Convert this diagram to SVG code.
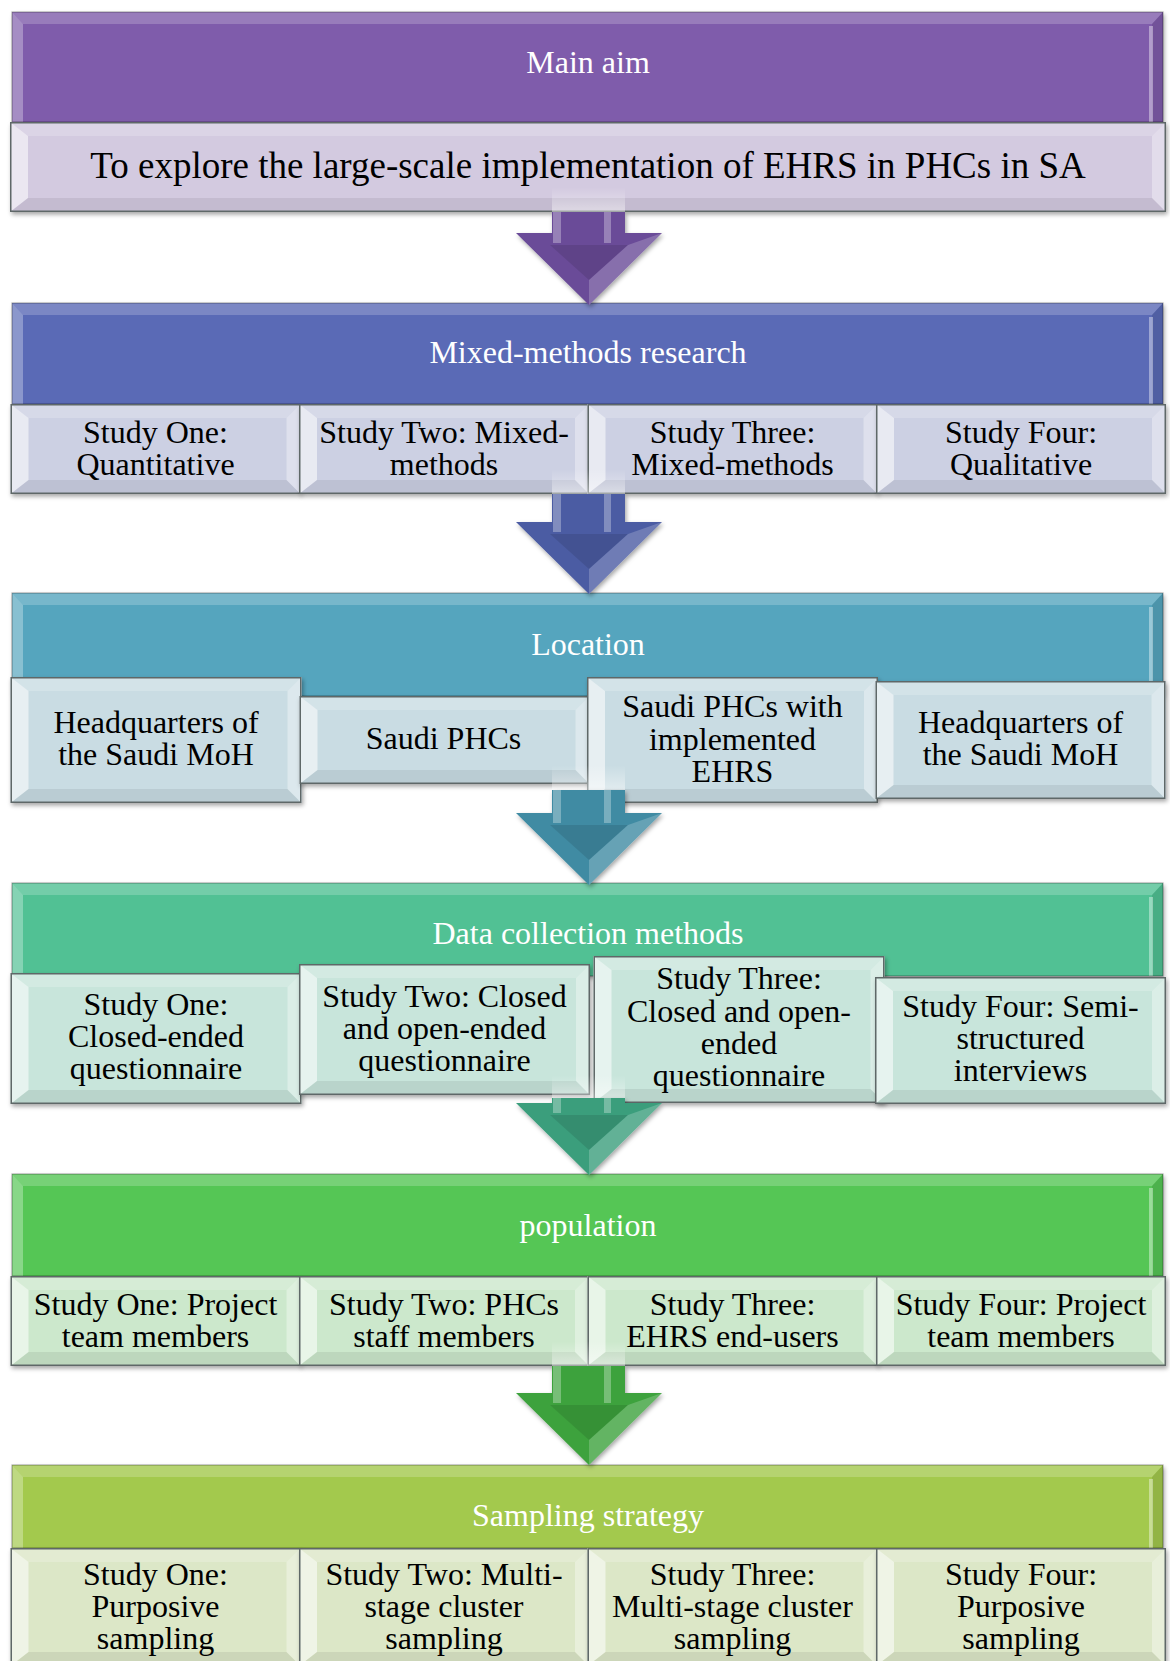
<svg xmlns="http://www.w3.org/2000/svg" xmlns:xlink="http://www.w3.org/1999/xlink" width="1170" height="1661" viewBox="0 0 1170 1661">
<style>
.ht{font-family:"Liberation Serif","Times New Roman",serif;font-size:32px;fill:#fff;text-anchor:middle}
.ct{font-family:"Liberation Serif","Times New Roman",serif;font-size:32px;fill:#000;text-anchor:middle}
.at{font-family:"Liberation Serif","Times New Roman",serif;font-size:37px;fill:#000;text-anchor:middle}
.ft{fill:#fff;opacity:.2}
.fl{fill:#fff;opacity:.55}
.fr{fill:#fff;opacity:.35}
.fb{fill:#000;opacity:.07}
.ol{fill:none;stroke:#5e6868;stroke-width:1.5}
.hl{fill:#fff;opacity:.3}
.hr{fill:#000;opacity:.1}
.hs{fill:#fff;opacity:.4}
.ho{fill:none;stroke:#000;stroke-opacity:.3;stroke-width:1.2}
symbol{overflow:visible}
.h1{fill:#7f5bab}.h2{fill:#5a6ab6}.h3{fill:#54a5be}.h4{fill:#51c194}.h5{fill:#54c654}.h6{fill:#a3c94e}
.s1{fill:#d3cae0}.s2{fill:#ccd0e3}.s3{fill:#c9dce3}.s4{fill:#c8e5db}.s5{fill:#cce8cc}.s6{fill:#dce7c7}
.a1{fill:#6a4c98}.a2{fill:#4b5ca3}.a3{fill:#3f8ba3}.a4{fill:#3b9e7c}.a5{fill:#3ea23e}
.hi{fill:#fff;opacity:.3}
.dk{fill:#000;opacity:.1}
.lt{fill:#fff;opacity:.2}
</style>
<defs>
<filter id="sh" x="-3%" y="-10%" width="106%" height="125%">
<feDropShadow dx="1.5" dy="2.5" stdDeviation="2" flood-color="#000" flood-opacity="0.35"/>
</filter>
<linearGradient id="fade" x1="0" y1="0" x2="0" y2="1">
<stop offset="0" stop-color="#fff" stop-opacity="0"/>
<stop offset="1" stop-color="#fff" stop-opacity="0.45"/>
</linearGradient>
<symbol id="sAim" viewBox="0 0 1156 90">
<rect width="1156" height="90"/>
<polygon class="ft" points="0,0 1156,0 1142,14 18,14"/>
<polygon class="fl" points="0,0 18,14 18,76 0,90"/>
<polygon class="fr" points="1156,0 1156,90 1142,76 1142,14"/>
<polygon class="fb" points="0,90 18,76 1142,76 1156,90"/>
<rect class="ol" x="0.75" y="0.75" width="1154.5" height="88.5"/>
</symbol>
<symbol id="c90" viewBox="0 0 290 90">
<rect width="290" height="90"/>
<polygon class="ft" points="0,0 290,0 276,14 18,14"/>
<polygon class="fl" points="0,0 18,14 18,76 0,90"/>
<polygon class="fr" points="290,0 290,90 276,76 276,14"/>
<polygon class="fb" points="0,90 18,76 276,76 290,90"/>
<rect class="ol" x="0.75" y="0.75" width="288.5" height="88.5"/>
</symbol>
<symbol id="c88" viewBox="0 0 290 88">
<rect width="290" height="88"/>
<polygon class="ft" points="0,0 290,0 276,14 18,14"/>
<polygon class="fl" points="0,0 18,14 18,74 0,88"/>
<polygon class="fr" points="290,0 290,88 276,74 276,14"/>
<polygon class="fb" points="0,88 18,74 276,74 290,88"/>
<rect class="ol" x="0.75" y="0.75" width="288.5" height="86.5"/>
</symbol>
<symbol id="c118" viewBox="0 0 290 118">
<rect width="290" height="118"/>
<polygon class="ft" points="0,0 290,0 276,14 18,14"/>
<polygon class="fl" points="0,0 18,14 18,104 0,118"/>
<polygon class="fr" points="290,0 290,118 276,104 276,14"/>
<polygon class="fb" points="0,118 18,104 276,104 290,118"/>
<rect class="ol" x="0.75" y="0.75" width="288.5" height="116.5"/>
</symbol>
<symbol id="c126" viewBox="0 0 291 126">
<rect width="291" height="126"/>
<polygon class="ft" points="0,0 291,0 277,14 18,14"/>
<polygon class="fl" points="0,0 18,14 18,112 0,126"/>
<polygon class="fr" points="291,0 291,126 277,112 277,14"/>
<polygon class="fb" points="0,126 18,112 277,112 291,126"/>
<rect class="ol" x="0.75" y="0.75" width="289.5" height="124.5"/>
</symbol>
<symbol id="c127" viewBox="0 0 291 127">
<rect width="291" height="127"/>
<polygon class="ft" points="0,0 291,0 277,14 18,14"/>
<polygon class="fl" points="0,0 18,14 18,113 0,127"/>
<polygon class="fr" points="291,0 291,127 277,113 277,14"/>
<polygon class="fb" points="0,127 18,113 277,113 291,127"/>
<rect class="ol" x="0.75" y="0.75" width="289.5" height="125.5"/>
</symbol>
<symbol id="c131" viewBox="0 0 291 131">
<rect width="291" height="131"/>
<polygon class="ft" points="0,0 291,0 277,14 18,14"/>
<polygon class="fl" points="0,0 18,14 18,117 0,131"/>
<polygon class="fr" points="291,0 291,131 277,117 277,14"/>
<polygon class="fb" points="0,131 18,117 277,117 291,131"/>
<rect class="ol" x="0.75" y="0.75" width="289.5" height="129.5"/>
</symbol>
<symbol id="c147" viewBox="0 0 291 147">
<rect width="291" height="147"/>
<polygon class="ft" points="0,0 291,0 277,14 18,14"/>
<polygon class="fl" points="0,0 18,14 18,133 0,147"/>
<polygon class="fr" points="291,0 291,147 277,133 277,14"/>
<polygon class="fb" points="0,147 18,133 277,133 291,147"/>
<rect class="ol" x="0.75" y="0.75" width="289.5" height="145.5"/>
</symbol>
</defs>
<rect width="1170" height="1661" fill="#fff"/>

<!-- Row 1 -->
<g id="n-main-aim">
<rect class="h1" x="12" y="12" width="1151" height="110" filter="url(#sh)"/>
<polygon class="ft" points="12,12 1163,12 1152,24 23,24"/>
<polygon class="hl" points="12,12 23,24 23,122 12,122"/>
<polygon class="hr" points="1163,12 1163,122 1152,122 1152,24"/>
<rect class="hs" x="1149" y="26" width="4" height="96"/>
<rect class="ho" x="12" y="12" width="1151" height="110"/>
<text class="ht" x="588" y="73">Main aim</text>
</g>
<g id="n-aim-text">
<use href="#sAim" class="s1" x="10" y="122" width="1156" height="90" filter="url(#sh)"/>
<text class="at" x="588" y="178">To explore the large-scale implementation of EHRS in PHCs in SA</text>
</g>

<!-- Row 2 -->
<g id="n-mixed-methods">
<rect class="h2" x="12" y="303" width="1151" height="101" filter="url(#sh)"/>
<polygon class="ft" points="12,303 1163,303 1152,315 23,315"/>
<polygon class="hl" points="12,303 23,315 23,404 12,404"/>
<polygon class="hr" points="1163,303 1163,404 1152,404 1152,315"/>
<rect class="hs" x="1149" y="317" width="4" height="87"/>
<rect class="ho" x="12" y="303" width="1151" height="101"/>
<text class="ht" x="588" y="363">Mixed-methods research</text>
</g>
<g id="n-design-1">
<use href="#c90" class="s2" x="10.5" y="404" width="290" height="90" filter="url(#sh)"/>
<text class="ct" x="155.5"><tspan x="155.5" y="443">Study One:</tspan><tspan x="155.5" y="475">Quantitative</tspan></text>
</g>
<g id="n-design-2">
<use href="#c90" class="s2" x="299" y="404" width="290" height="90" filter="url(#sh)"/>
<text class="ct" x="444"><tspan x="444" y="443">Study Two: Mixed-</tspan><tspan x="444" y="475">methods</tspan></text>
</g>
<g id="n-design-3">
<use href="#c90" class="s2" x="587.5" y="404" width="290" height="90" filter="url(#sh)"/>
<text class="ct" x="732.5"><tspan x="732.5" y="443">Study Three:</tspan><tspan x="732.5" y="475">Mixed-methods</tspan></text>
</g>
<g id="n-design-4">
<use href="#c90" class="s2" x="876" y="404" width="290" height="90" filter="url(#sh)"/>
<text class="ct" x="1021"><tspan x="1021" y="443">Study Four:</tspan><tspan x="1021" y="475">Qualitative</tspan></text>
</g>

<!-- Row 3 -->
<g id="n-location">
<rect class="h3" x="12" y="593" width="1151" height="103" filter="url(#sh)"/>
<polygon class="ft" points="12,593 1163,593 1152,605 23,605"/>
<polygon class="hl" points="12,593 23,605 23,696 12,696"/>
<polygon class="hr" points="1163,593 1163,696 1152,696 1152,605"/>
<rect class="hs" x="1149" y="607" width="4" height="89"/>
<rect class="ho" x="12" y="593" width="1151" height="103"/>
<text class="ht" x="588" y="655">Location</text>
</g>
<g id="n-location-1">
<use href="#c126" class="s3" x="10.5" y="677" width="291" height="126" filter="url(#sh)"/>
<text class="ct" x="156"><tspan x="156" y="733">Headquarters of</tspan><tspan x="156" y="765">the Saudi MoH</tspan></text>
</g>
<g id="n-location-2">
<use href="#c88" class="s3" x="299.5" y="696" width="290" height="88" filter="url(#sh)"/>
<text class="ct" x="443.5" y="749">Saudi PHCs</text>
</g>
<g id="n-location-3">
<use href="#c126" class="s3" x="587" y="677" width="291" height="126" filter="url(#sh)"/>
<text class="ct" x="732.5"><tspan x="732.5" y="717">Saudi PHCs with</tspan><tspan x="732.5" y="750">implemented</tspan><tspan x="732.5" y="782">EHRS</tspan></text>
</g>
<g id="n-location-4">
<use href="#c118" class="s3" x="875.5" y="681" width="290" height="118" filter="url(#sh)"/>
<text class="ct" x="1020.5"><tspan x="1020.5" y="733">Headquarters of</tspan><tspan x="1020.5" y="765">the Saudi MoH</tspan></text>
</g>

<!-- Row 4 -->
<g id="n-data-collection">
<rect class="h4" x="12" y="883" width="1151" height="93" filter="url(#sh)"/>
<polygon class="ft" points="12,883 1163,883 1152,895 23,895"/>
<polygon class="hl" points="12,883 23,895 23,976 12,976"/>
<polygon class="hr" points="1163,883 1163,976 1152,976 1152,895"/>
<rect class="hs" x="1149" y="897" width="4" height="79"/>
<rect class="ho" x="12" y="883" width="1151" height="93"/>
<text class="ht" x="588" y="944">Data collection methods</text>
</g>
<g id="n-data-1">
<use href="#c131" class="s4" x="10.5" y="973" width="291" height="131" filter="url(#sh)"/>
<text class="ct" x="156"><tspan x="156" y="1015">Study One:</tspan><tspan x="156" y="1047">Closed-ended</tspan><tspan x="156" y="1079">questionnaire</tspan></text>
</g>
<g id="n-data-2">
<use href="#c131" class="s4" x="299" y="964" width="291" height="131" filter="url(#sh)"/>
<text class="ct" x="444.5"><tspan x="444.5" y="1007">Study Two: Closed</tspan><tspan x="444.5" y="1039">and open-ended</tspan><tspan x="444.5" y="1071">questionnaire</tspan></text>
</g>
<g id="n-data-3">
<use href="#c147" class="s4" x="593.5" y="956" width="291" height="147" filter="url(#sh)"/>
<text class="ct" x="739"><tspan x="739" y="989">Study Three:</tspan><tspan x="739" y="1022">Closed and open-</tspan><tspan x="739" y="1054">ended</tspan><tspan x="739" y="1086">questionnaire</tspan></text>
</g>
<g id="n-data-4">
<use href="#c127" class="s4" x="875" y="977" width="291" height="127" filter="url(#sh)"/>
<text class="ct" x="1020.5"><tspan x="1020.5" y="1017">Study Four: Semi-</tspan><tspan x="1020.5" y="1049">structured</tspan><tspan x="1020.5" y="1081">interviews</tspan></text>
</g>

<!-- Row 5 -->
<g id="n-population">
<rect class="h5" x="12" y="1174" width="1151" height="102" filter="url(#sh)"/>
<polygon class="ft" points="12,1174 1163,1174 1152,1186 23,1186"/>
<polygon class="hl" points="12,1174 23,1186 23,1276 12,1276"/>
<polygon class="hr" points="1163,1174 1163,1276 1152,1276 1152,1186"/>
<rect class="hs" x="1149" y="1188" width="4" height="88"/>
<rect class="ho" x="12" y="1174" width="1151" height="102"/>
<text class="ht" x="588" y="1236">population</text>
</g>
<g id="n-population-1">
<use href="#c90" class="s5" x="10.5" y="1276" width="290" height="90" filter="url(#sh)"/>
<text class="ct" x="155.5"><tspan x="155.5" y="1315">Study One: Project</tspan><tspan x="155.5" y="1347">team members</tspan></text>
</g>
<g id="n-population-2">
<use href="#c90" class="s5" x="299" y="1276" width="290" height="90" filter="url(#sh)"/>
<text class="ct" x="444"><tspan x="444" y="1315">Study Two: PHCs</tspan><tspan x="444" y="1347">staff members</tspan></text>
</g>
<g id="n-population-3">
<use href="#c90" class="s5" x="587.5" y="1276" width="290" height="90" filter="url(#sh)"/>
<text class="ct" x="732.5"><tspan x="732.5" y="1315">Study Three:</tspan><tspan x="732.5" y="1347">EHRS end-users</tspan></text>
</g>
<g id="n-population-4">
<use href="#c90" class="s5" x="876" y="1276" width="290" height="90" filter="url(#sh)"/>
<text class="ct" x="1021"><tspan x="1021" y="1315">Study Four: Project</tspan><tspan x="1021" y="1347">team members</tspan></text>
</g>

<!-- Row 6 -->
<g id="n-sampling">
<rect class="h6" x="12" y="1465" width="1151" height="83" filter="url(#sh)"/>
<polygon class="ft" points="12,1465 1163,1465 1152,1477 23,1477"/>
<polygon class="hl" points="12,1465 23,1477 23,1548 12,1548"/>
<polygon class="hr" points="1163,1465 1163,1548 1152,1548 1152,1477"/>
<rect class="hs" x="1149" y="1479" width="4" height="69"/>
<rect class="ho" x="12" y="1465" width="1151" height="83"/>
<text class="ht" x="588" y="1526">Sampling strategy</text>
</g>
<g id="n-sampling-1">
<use href="#c118" class="s6" x="10.5" y="1548" width="290" height="118" filter="url(#sh)"/>
<text class="ct" x="155.5"><tspan x="155.5" y="1585">Study One:</tspan><tspan x="155.5" y="1617">Purposive</tspan><tspan x="155.5" y="1649">sampling</tspan></text>
</g>
<g id="n-sampling-2">
<use href="#c118" class="s6" x="299" y="1548" width="290" height="118" filter="url(#sh)"/>
<text class="ct" x="444"><tspan x="444" y="1585">Study Two: Multi-</tspan><tspan x="444" y="1617">stage cluster</tspan><tspan x="444" y="1649">sampling</tspan></text>
</g>
<g id="n-sampling-3">
<use href="#c118" class="s6" x="587.5" y="1548" width="290" height="118" filter="url(#sh)"/>
<text class="ct" x="732.5"><tspan x="732.5" y="1585">Study Three:</tspan><tspan x="732.5" y="1617">Multi-stage cluster</tspan><tspan x="732.5" y="1649">sampling</tspan></text>
</g>
<g id="n-sampling-4">
<use href="#c118" class="s6" x="876" y="1548" width="290" height="118" filter="url(#sh)"/>
<text class="ct" x="1021"><tspan x="1021" y="1585">Study Four:</tspan><tspan x="1021" y="1617">Purposive</tspan><tspan x="1021" y="1649">sampling</tspan></text>
</g>

<!-- Connectors -->
<g id="connectors">
<g id="arrow-1">
<rect x="552" y="187" width="73" height="25" fill="url(#fade)"/>
<path class="a1" d="M552,212 H625 V233 H662 L589,305 L516,233 H552 Z" filter="url(#sh)"/>
<rect class="hi" x="553" y="212" width="8" height="31"/>
<rect class="hi" x="604" y="212" width="7" height="31"/>
<polygon class="dk" points="550,245 628,245 589,280"/>
<polygon class="lt" points="662,233 589,305 589,280 628,245"/>
</g>
<g id="arrow-2">
<rect x="552" y="469" width="73" height="25" fill="url(#fade)"/>
<path class="a2" d="M552,494 H625 V522 H662 L589,594 L516,522 H552 Z" filter="url(#sh)"/>
<rect class="hi" x="553" y="494" width="8" height="38"/>
<rect class="hi" x="604" y="494" width="7" height="38"/>
<polygon class="dk" points="550,534 628,534 589,569"/>
<polygon class="lt" points="662,522 589,594 589,569 628,534"/>
</g>
<g id="arrow-3">
<rect x="552" y="765" width="73" height="25" fill="url(#fade)"/>
<path class="a3" d="M552,790 H625 V813 H662 L589,885 L516,813 H552 Z" filter="url(#sh)"/>
<rect class="hi" x="553" y="790" width="8" height="33"/>
<rect class="hi" x="604" y="790" width="7" height="33"/>
<polygon class="dk" points="550,825 628,825 589,860"/>
<polygon class="lt" points="662,813 589,885 589,860 628,825"/>
</g>
<g id="arrow-4">
<rect x="552" y="1075" width="73" height="25" fill="url(#fade)"/>
<path class="a4" d="M552,1098 H625 V1103 H662 L589,1175 L516,1103 H552 Z" filter="url(#sh)"/>
<rect class="hi" x="553" y="1098" width="8" height="15"/>
<rect class="hi" x="604" y="1098" width="7" height="15"/>
<polygon class="dk" points="550,1115 628,1115 589,1150"/>
<polygon class="lt" points="662,1103 589,1175 589,1150 628,1115"/>
</g>
<g id="arrow-5">
<rect x="552" y="1341" width="73" height="25" fill="url(#fade)"/>
<path class="a5" d="M552,1366 H625 V1393 H662 L589,1465 L516,1393 H552 Z" filter="url(#sh)"/>
<rect class="hi" x="553" y="1366" width="8" height="37"/>
<rect class="hi" x="604" y="1366" width="7" height="37"/>
<polygon class="dk" points="550,1405 628,1405 589,1440"/>
<polygon class="lt" points="662,1393 589,1465 589,1440 628,1405"/>
</g>
</g>
</svg>
